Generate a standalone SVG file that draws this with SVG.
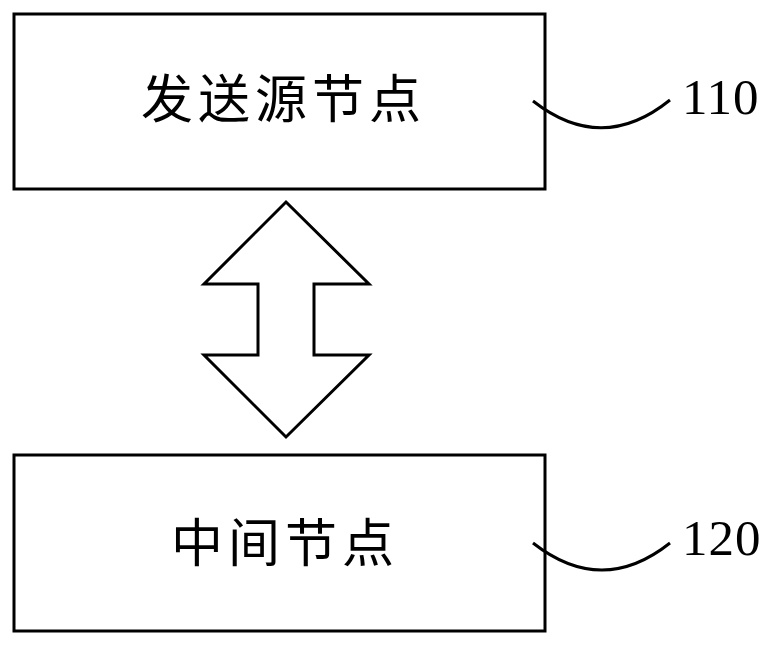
<svg xmlns="http://www.w3.org/2000/svg" width="779" height="651" viewBox="0 0 779 651">
<style>
.box{fill:#fff;stroke:#000;stroke-width:3}
.lead{fill:none;stroke:#000;stroke-width:3}
.cn{font-family:"Noto Sans CJK SC","Noto Sans",sans-serif;font-size:52px;fill:#000;letter-spacing:5px}
.num{font-family:"Liberation Serif",serif;font-size:51px;fill:#000;letter-spacing:1px}
</style>
<rect width="779" height="651" fill="#fff"/>
<g id="node110">
<rect class="box" x="14" y="14" width="531" height="175"/>
<text class="cn" x="141" y="118">发送源节点</text>
</g>
<g id="node120">
<rect class="box" x="14" y="455" width="531" height="176"/>
<text class="cn" x="171" y="562">中间节点</text>
</g>
<g id="connectors">
<path class="lead" d="M533,101 Q602,155 670,100"/>
<text class="num" x="682" y="114">110</text>
<path class="lead" d="M533,543 Q602,597 670,543"/>
<text class="num" x="682" y="555">120</text>
<polygon class="box" points="286,202 369,284 314,284 314,355 369,355 286,437 204,355 258,355 258,284 204,284"/>
</g>
</svg>
